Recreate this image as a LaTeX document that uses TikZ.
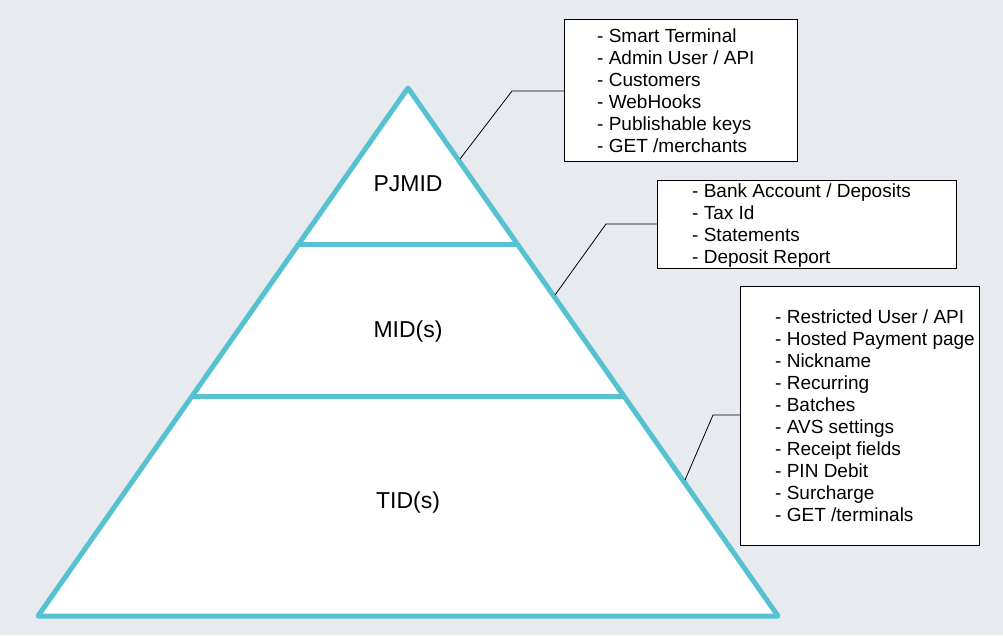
\documentclass[tikz,border=0pt]{standalone}
\usepackage{fontspec}
\setmainfont{Liberation Sans}
\definecolor{bgc}{RGB}{231,235,239}
\definecolor{teal1}{RGB}{86,193,208}
\begin{document}
\begin{tikzpicture}[x=1pt,y=-1pt,
  pyr/.style={draw=teal1,line width=5pt,line join=round},
  box/.style={draw=black,line width=1.1pt,fill=white,rectangle,anchor=north west,inner sep=0pt},
  lst/.style={anchor=north west,inner sep=0pt,align=left,font=\fontsize{19}{22}\selectfont},
  lvl/.style={font=\fontsize{23}{27}\selectfont,inner sep=0pt},
  conn/.style={draw=black,line width=0.8pt}]
\fill[bgc] (0,0) rectangle (1003,635);
\useasboundingbox (0,0) rectangle (1003,635);
% pyramid
\coordinate (apex) at (408,88);
\coordinate (bl) at (38,616);
\coordinate (br) at (778,616);
\coordinate (l1) at (298.7,244);
\coordinate (r1) at (517.3,244);
\coordinate (l2) at (192.2,396);
\coordinate (r2) at (623.8,396);
\fill[white] (apex) -- (br) -- (bl) -- cycle;
\draw[pyr] (l1) -- (r1);
\draw[pyr] (l2) -- (r2);
\draw[pyr] (apex) -- (br) -- (bl) -- cycle;
\node[lvl] (pjmid) at (408,184) {PJMID};
\node[lvl] (mid) at (408,332) {MID(s)};
\node[lvl] (tid) at (408,503) {TID(s)};
% boxes
\node[box,minimum width=233pt,minimum height=142pt] (b1) at (564,19) {};
\node[lst] (t1) at (597,29) {- Smart Terminal\\- Admin User / API\\- Customers\\- WebHooks\\- Publishable keys\\- GET /merchants};
\node[box,minimum width=299pt,minimum height=88pt] (b2) at (657,180) {};
\node[lst] (t2) at (692,184) {- Bank Account / Deposits\\- Tax Id\\- Statements\\- Deposit Report};
\node[box,minimum width=239pt,minimum height=259pt] (b3) at (740,286) {};
\node[lst] (t3) at (775,310) {- Restricted User / API\\- Hosted Payment page\\- Nickname\\- Recurring\\- Batches\\- AVS settings\\- Receipt fields\\- PIN Debit\\- Surcharge\\- GET /terminals};
% connectors
\coordinate (p1) at (460,159);
\coordinate (e1) at (512,91);
\coordinate (p2) at (555,295);
\coordinate (e2) at (606,224);
\coordinate (p3) at (685,480);
\coordinate (e3) at (713,415);
\draw[conn] (p1) -- (e1) -- (e1 -| b1.west);
\draw[conn] (p2) -- (e2) -- (e2 -| b2.west);
\draw[conn] (p3) -- (e3) -- (e3 -| b3.west);
\end{tikzpicture}
\end{document}
